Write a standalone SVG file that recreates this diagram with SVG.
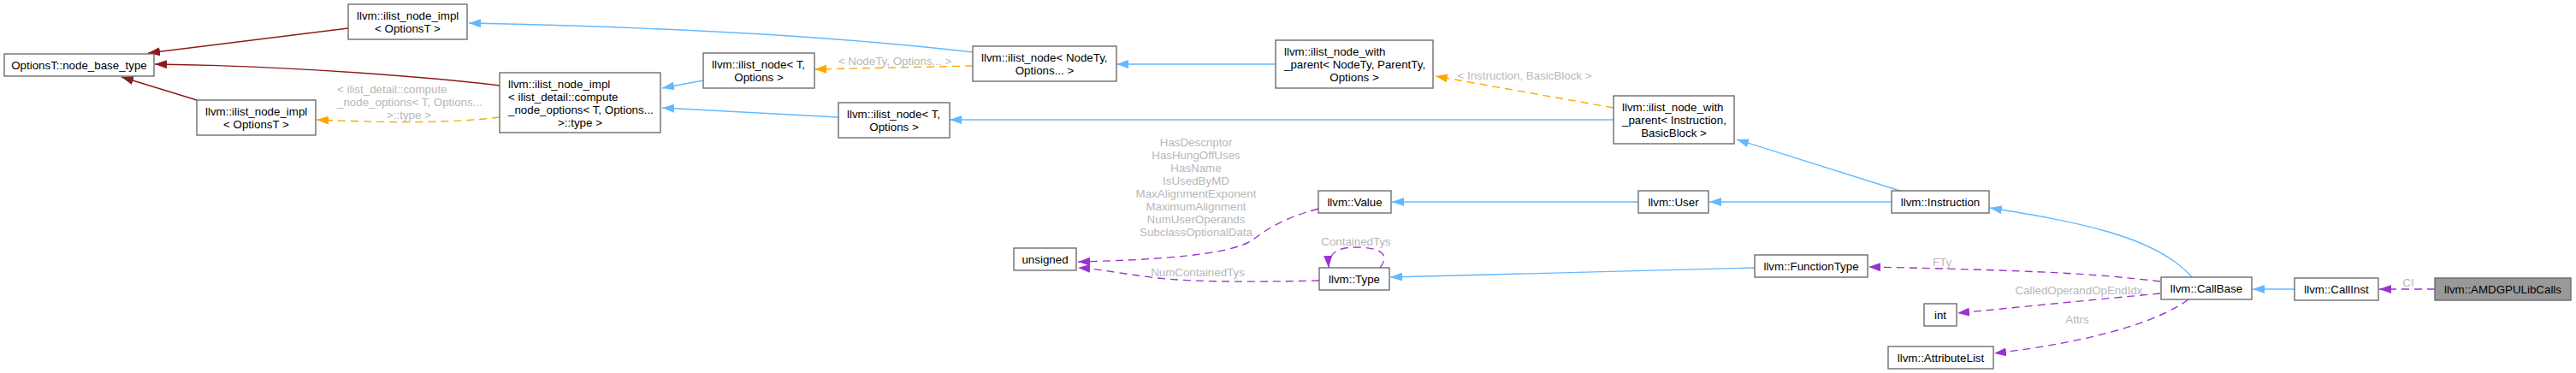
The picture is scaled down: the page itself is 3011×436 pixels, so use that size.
<svg xmlns="http://www.w3.org/2000/svg" width="3011" height="436" viewBox="0 0 3011 436">
<style>
.n rect{fill:#ffffff;stroke:#666666;stroke-width:1.33}
.n.hl rect{fill:#999999}
text{font-family:"Liberation Sans",Arial,Helvetica,sans-serif;font-size:13.33px;fill:#000000}
.c{text-anchor:middle}
.l{fill:#b8b8b8;font-size:13.33px}
.e path{fill:none;stroke-width:1.33}
.blue{stroke:#63b8ff}
.red{stroke:#8b1a1a}
.org{stroke:#ffa500;stroke-dasharray:9,6}
.pur{stroke:#9a32cd;stroke-dasharray:9,6}
</style>
<defs>
<marker id="mb" viewBox="0 0 14 10" refX="14" refY="5" markerWidth="14" markerHeight="10" orient="auto" markerUnits="userSpaceOnUse"><path d="M0,0 L14,5 L0,10 z" fill="#63b8ff"/></marker>
<marker id="mr" viewBox="0 0 14 10" refX="14" refY="5" markerWidth="14" markerHeight="10" orient="auto" markerUnits="userSpaceOnUse"><path d="M0,0 L14,5 L0,10 z" fill="#8b1a1a"/></marker>
<marker id="mo" viewBox="0 0 14 10" refX="14" refY="5" markerWidth="14" markerHeight="10" orient="auto" markerUnits="userSpaceOnUse"><path d="M0,0 L14,5 L0,10 z" fill="#ffa500"/></marker>
<marker id="mp" viewBox="0 0 14 10" refX="14" refY="5" markerWidth="14" markerHeight="10" orient="auto" markerUnits="userSpaceOnUse"><path d="M0,0 L14,5 L0,10 z" fill="#9a32cd"/></marker>
</defs>
<rect x="0" y="0" width="3011" height="436" fill="#ffffff"/>

<g id="connectors" class="e">
<path class="red" d="M407,33 L173,62" marker-end="url(#mr)"/>
<path class="red" d="M584,100 C520,92 350,77 181,75" marker-end="url(#mr)"/>
<path class="red" d="M230,117 L142,90" marker-end="url(#mr)"/>
<path class="org" d="M584,137 C520,145 440,143 370,140" marker-end="url(#mo)"/>
<path class="org" d="M1137,77 L952,81" marker-end="url(#mo)"/>
<path class="org" d="M1886,126 L1678,89" marker-end="url(#mo)"/>
<path class="blue" d="M1137,61 C1000,45 800,32 548,27" marker-end="url(#mb)"/>
<path class="blue" d="M822,94 L774,103" marker-end="url(#mb)"/>
<path class="blue" d="M980,137 C900,133 830,129 774,126" marker-end="url(#mb)"/>
<path class="blue" d="M1491,75 L1305,75" marker-end="url(#mb)"/>
<path class="blue" d="M1886,140 L1110,140" marker-end="url(#mb)"/>
<path class="blue" d="M2224,224 L2030,163" marker-end="url(#mb)"/>
<path class="blue" d="M1915,236 L1627,236" marker-end="url(#mb)"/>
<path class="blue" d="M2211,236 L1998,236" marker-end="url(#mb)"/>
<path class="blue" d="M2051,313 L1625,324" marker-end="url(#mb)"/>
<path class="blue" d="M2562,324 C2520,275 2420,258 2326,243" marker-end="url(#mb)"/>
<path class="blue" d="M2682,338 L2633,338" marker-end="url(#mb)"/>
<path class="pur" d="M1541,244 C1500,255 1480,268 1465,280 C1440,298 1350,304 1260,306" marker-end="url(#mp)"/>
<path class="pur" d="M1542,328 C1450,330 1380,330 1330,322 C1300,318 1280,314 1260,313" marker-end="url(#mp)"/>
<path class="pur" d="M1613,313 C1625,298 1615,289 1585,289 C1562,289 1552,297 1553,313" marker-end="url(#mp)"/>
<path class="pur" d="M2525,329 C2450,320 2380,316 2184,312" marker-end="url(#mp)"/>
<path class="pur" d="M2525,343 C2450,350 2350,360 2288,366" marker-end="url(#mp)"/>
<path class="pur" d="M2558,350 C2520,378 2440,400 2331,413" marker-end="url(#mp)"/>
<path class="pur" d="M2846,338 L2781,338" marker-end="url(#mp)"/>
<g id="edge-labels">
<text class="l" x="394" y="108.5">&lt; ilist_detail::compute</text>
<text class="l" x="394" y="123.5">_node_options&lt; T, Options...</text>
<text class="l c" x="478" y="138.5">&gt;::type &gt;</text>
<text class="l c" x="1046" y="75.5">&lt; NodeTy, Options... &gt;</text>
<text class="l c" x="1782" y="92.5">&lt; Instruction, BasicBlock &gt;</text>
<text class="l c" x="1398" y="171">HasDescriptor</text>
<text class="l c" x="1398" y="186">HasHungOffUses</text>
<text class="l c" x="1398" y="201">HasName</text>
<text class="l c" x="1398" y="216">IsUsedByMD</text>
<text class="l c" x="1398" y="231">MaxAlignmentExponent</text>
<text class="l c" x="1398" y="246">MaximumAlignment</text>
<text class="l c" x="1398" y="261">NumUserOperands</text>
<text class="l c" x="1398" y="276">SubclassOptionalData</text>
<text class="l c" x="1400" y="322.5">NumContainedTys</text>
<text class="l c" x="1585" y="286.5">ContainedTys</text>
<text class="l c" x="2270" y="310.5">FTy</text>
<text class="l c" x="2430" y="343.5">CalledOperandOpEndIdx</text>
<text class="l c" x="2428" y="377.5">Attrs</text>
<text class="l c" x="2815" y="334.5">CI</text>
</g>
</g>

<g id="node_base_type" class="n"><rect x="5" y="63" width="175" height="26"/><text class="c" x="92.5" y="80.5">OptionsT::node_base_type</text></g>
<g id="ilist_node_impl_top" class="n"><rect x="407" y="5" width="139" height="41"/><text x="417" y="22.5">llvm::ilist_node_impl</text><text class="c" x="476.5" y="37.5">&lt; OptionsT &gt;</text></g>
<g id="ilist_node_impl_low" class="n"><rect x="230" y="117" width="139" height="41"/><text x="240" y="134.5">llvm::ilist_node_impl</text><text class="c" x="299.5" y="149.5">&lt; OptionsT &gt;</text></g>
<g id="ilist_node_impl_compute" class="n"><rect x="584" y="85" width="188" height="70"/><text x="594" y="103">llvm::ilist_node_impl</text><text x="594" y="118">&lt; ilist_detail::compute</text><text x="594" y="133">_node_options&lt; T, Options...</text><text class="c" x="678" y="148">&gt;::type &gt;</text></g>
<g id="ilist_node_T_upper" class="n"><rect x="822" y="62" width="130" height="41"/><text x="832" y="79.5">llvm::ilist_node&lt; T,</text><text class="c" x="887" y="94.5">Options &gt;</text></g>
<g id="ilist_node_T_lower" class="n"><rect x="980" y="120" width="130" height="41"/><text x="990" y="137.5">llvm::ilist_node&lt; T,</text><text class="c" x="1045" y="152.5">Options &gt;</text></g>
<g id="ilist_node_NodeTy" class="n"><rect x="1137" y="54" width="168" height="41"/><text x="1147" y="71.5">llvm::ilist_node&lt; NodeTy,</text><text class="c" x="1221" y="86.5">Options... &gt;</text></g>
<g id="ilist_node_with_parent_generic" class="n"><rect x="1491" y="47" width="184" height="56"/><text x="1501" y="64.5">llvm::ilist_node_with</text><text x="1501" y="79.5">_parent&lt; NodeTy, ParentTy,</text><text class="c" x="1583" y="94.5">Options &gt;</text></g>
<g id="ilist_node_with_parent_inst" class="n"><rect x="1886" y="112" width="141" height="56"/><text x="1896" y="129.5">llvm::ilist_node_with</text><text x="1896" y="144.5">_parent&lt; Instruction,</text><text class="c" x="1956.5" y="159.5">BasicBlock &gt;</text></g>
<g id="unsigned" class="n"><rect x="1185" y="290" width="73" height="26"/><text class="c" x="1221.5" y="307.5">unsigned</text></g>
<g id="Value" class="n"><rect x="1541" y="223" width="85" height="26"/><text class="c" x="1583.5" y="240.5">llvm::Value</text></g>
<g id="Type" class="n"><rect x="1542" y="313" width="82" height="26"/><text class="c" x="1583" y="330.5">llvm::Type</text></g>
<g id="User" class="n"><rect x="1915" y="223" width="82" height="26"/><text class="c" x="1956" y="240.5">llvm::User</text></g>
<g id="Instruction" class="n"><rect x="2211" y="223" width="114" height="26"/><text class="c" x="2268" y="240.5">llvm::Instruction</text></g>
<g id="FunctionType" class="n"><rect x="2051" y="298" width="132" height="26"/><text class="c" x="2117" y="315.5">llvm::FunctionType</text></g>
<g id="CallBase" class="n"><rect x="2526" y="324" width="106" height="26"/><text class="c" x="2579" y="341.5">llvm::CallBase</text></g>
<g id="int" class="n"><rect x="2249" y="355" width="38" height="26"/><text class="c" x="2268" y="372.5">int</text></g>
<g id="AttributeList" class="n"><rect x="2207" y="405" width="123" height="26"/><text class="c" x="2268.5" y="422.5">llvm::AttributeList</text></g>
<g id="CallInst" class="n"><rect x="2682" y="325" width="98" height="26"/><text class="c" x="2731" y="342.5">llvm::CallInst</text></g>
<g id="AMDGPULibCalls" class="n hl"><rect x="2846" y="325" width="159" height="26"/><text class="c" x="2925.5" y="342.5">llvm::AMDGPULibCalls</text></g>
</svg>
